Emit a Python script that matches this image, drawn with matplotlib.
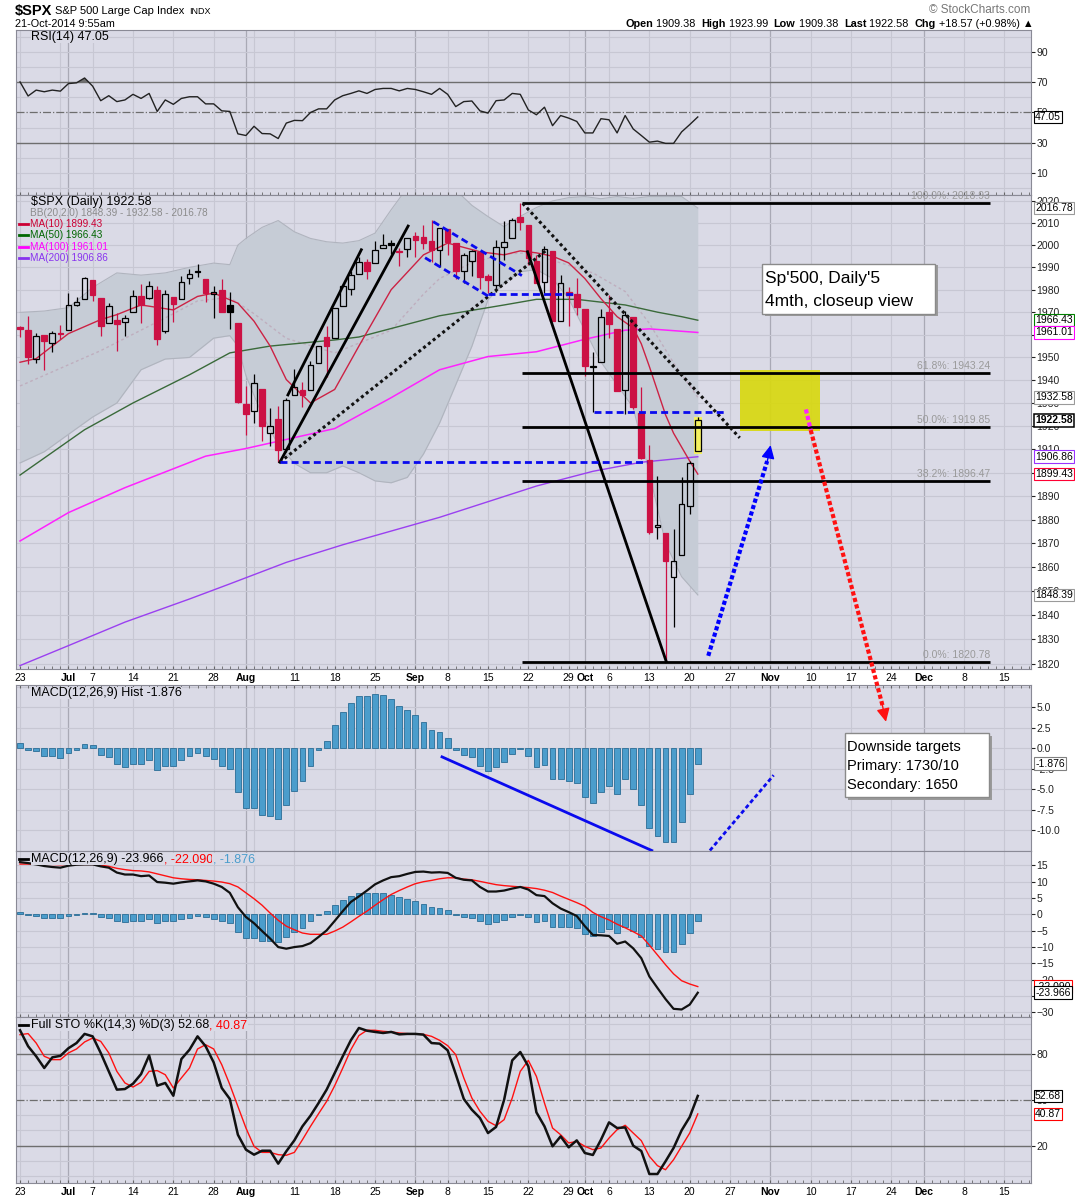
import matplotlib
matplotlib.use('Agg')
import matplotlib.pyplot as plt
import numpy as np
import pandas as pd
from matplotlib.patches import Rectangle
from matplotlib.lines import Line2D
from matplotlib.ticker import NullLocator
from matplotlib.transforms import blended_transform_factory

plt.rcParams['font.family'] = ['Liberation Sans', 'DejaVu Sans']

# ---------------- data ----------------
opens = [1962.92, 1961.97, 1949.27, 1959.89, 1956.56, 1960.79, 1962.29, 1973.06, 1975.88, 1984.22,
         1976.39, 1965.10, 1966.67, 1965.76, 1969.86, 1977.36, 1976.35, 1979.75, 1961.54, 1976.93,
         1975.65, 1985.32, 1988.07, 1984.60, 1978.25, 1980.03, 1973.21, 1965.14, 1929.80, 1926.62,
         1936.34, 1917.29, 1923.03, 1910.35, 1933.43, 1935.73, 1935.60, 1947.41, 1958.87, 1958.36,
         1972.73, 1980.46, 1986.82, 1992.60, 1991.74, 1998.59, 2000.54, 1997.42, 1998.45, 2004.07,
         2003.57, 2001.67, 1998.00, 2007.17, 2000.73, 1988.41, 1992.85, 1996.74, 1986.04, 1981.93,
         1999.30, 2003.07, 2012.74, 2009.08, 1992.78, 1983.34, 1997.32, 1966.22, 1978.96, 1978.21,
         1971.44, 1945.83, 1948.12, 1970.01, 1962.36, 1935.55, 1967.68, 1925.63, 1905.65, 1877.11,
         1874.18, 1855.95, 1864.91, 1885.62, 1909.38]
highs = [1963.74, 1968.17, 1960.83, 1959.89, 1961.47, 1964.24, 1978.58, 1976.67, 1985.59, 1984.22,
         1976.39, 1974.15, 1969.84, 1968.67, 1979.85, 1982.52, 1983.94, 1981.80, 1979.91, 1976.93,
         1986.24, 1989.23, 1991.39, 1984.60, 1981.52, 1984.85, 1978.90, 1965.14, 1937.35, 1942.92,
         1936.34, 1927.91, 1928.89, 1932.38, 1944.90, 1939.27, 1948.41, 1955.23, 1964.04, 1971.99,
         1982.57, 1988.57, 1994.76, 1993.54, 2001.95, 2005.04, 2002.14, 1998.55, 2003.38, 2006.12,
         2009.28, 2011.17, 2007.71, 2007.17, 2001.01, 1996.66, 1997.65, 1996.74, 1987.18, 2002.28,
         2010.74, 2012.34, 2019.26, 2009.08, 1995.41, 1999.79, 1997.32, 1986.37, 1981.28, 1985.17,
         1971.44, 1952.32, 1971.19, 1977.84, 1962.36, 1970.36, 1967.68, 1936.98, 1912.09, 1898.71,
         1874.18, 1876.01, 1898.16, 1905.03, 1923.99]
lows = [1958.89, 1947.20, 1947.49, 1944.69, 1952.18, 1958.22, 1962.29, 1972.58, 1975.88, 1974.88,
        1959.46, 1965.10, 1952.86, 1959.63, 1969.86, 1965.34, 1975.67, 1955.59, 1960.82, 1965.77,
        1975.65, 1982.44, 1985.79, 1974.37, 1967.31, 1969.95, 1962.42, 1930.04, 1916.37, 1921.20,
        1913.77, 1911.45, 1904.78, 1909.01, 1933.43, 1928.29, 1935.60, 1947.41, 1941.50, 1958.36,
        1972.73, 1977.68, 1986.82, 1984.76, 1991.74, 1998.59, 1996.20, 1990.52, 1994.65, 1994.85,
        1998.14, 1992.54, 1990.10, 1995.60, 1984.61, 1982.99, 1985.93, 1980.26, 1978.48, 1979.06,
        1993.29, 2003.07, 2006.59, 1991.01, 1982.77, 1978.63, 1965.99, 1966.22, 1964.04, 1968.96,
        1941.72, 1926.03, 1948.12, 1958.43, 1935.10, 1925.25, 1927.56, 1906.05, 1874.14, 1871.79,
        1820.66, 1835.02, 1864.91, 1882.30, 1909.38]
closes = [1962.61, 1949.98, 1959.53, 1957.22, 1960.96, 1960.23, 1973.32, 1974.62, 1985.44, 1977.65,
          1963.71, 1972.83, 1964.68, 1967.57, 1977.10, 1973.28, 1981.57, 1958.12, 1978.22, 1973.63,
          1983.53, 1987.01, 1987.98, 1978.34, 1978.91, 1969.95, 1970.07, 1930.67, 1925.15, 1938.99,
          1920.21, 1920.24, 1909.57, 1931.59, 1936.92, 1933.75, 1946.72, 1955.18, 1955.06, 1971.74,
          1981.60, 1986.51, 1992.37, 1988.40, 1997.92, 2000.02, 2000.12, 1996.74, 2003.37, 2002.28,
          2000.72, 1997.65, 2007.71, 2001.54, 1988.44, 1995.69, 1997.45, 1985.54, 1984.13, 1998.98,
          2001.57, 2011.36, 2010.40, 1994.29, 1982.77, 1998.30, 1965.99, 1982.85, 1977.80, 1972.29,
          1946.16, 1946.17, 1967.90, 1964.82, 1935.10, 1968.89, 1928.21, 1906.13, 1874.74, 1877.70,
          1862.49, 1862.76, 1886.76, 1904.01, 1922.58]

ma10_idx = [0, 2, 6, 10, 12, 15, 19, 22, 24, 27, 29, 31, 33, 36, 39, 42, 46, 50, 53, 57, 60,
            62, 64, 66, 68, 70, 72, 74, 76, 77, 78, 80, 81, 83, 84]
ma10_val = [1947.9, 1949.5, 1960.5, 1966.7, 1968.9, 1973.2, 1971.0, 1977.0, 1978.5, 1974.0, 1966.0,
            1955.0, 1940.3, 1930.1, 1936.0, 1955.0, 1980.0, 1995.6, 2000.9, 1997.0, 1995.6,
            1997.4, 1996.5, 1995.0, 1992.0, 1985.0, 1976.0, 1968.0, 1963.0, 1956.0, 1946.0,
            1925.0, 1917.0, 1905.0, 1899.43]
ma50_idx = [0, 8, 14, 21, 26, 31, 39, 42, 52, 60, 64, 69, 75, 79, 82, 84]
ma50_val = [1899.0, 1918.5, 1930.1, 1942.4, 1952.0, 1955.0, 1957.7, 1959.0, 1968.4, 1973.2,
            1975.7, 1975.7, 1973.2, 1970.0, 1968.0, 1966.43]
ma100_idx = [0, 6, 13, 23, 28, 33, 39, 46, 52, 58, 64, 70, 75, 78, 84]
ma100_val = [1871.0, 1883.0, 1893.6, 1907.1, 1910.4, 1914.3, 1919.0, 1932.4, 1944.6, 1950.4,
             1952.5, 1958.0, 1962.0, 1962.6, 1961.01]
ma200_idx = [0, 6, 13, 21, 26, 33, 40, 52, 64, 71, 77, 84]
ma200_val = [1819.2, 1827.4, 1837.1, 1846.7, 1853.0, 1862.0, 1869.4, 1881.0, 1894.3, 1900.6,
             1904.5, 1906.86]

bb_idx = [0, 3, 6, 9, 12, 15, 18, 21, 24, 26, 27, 28, 30, 32, 34, 36, 38, 40, 42, 44,
          46, 48, 50, 52, 54, 56, 58, 60, 62, 64, 66, 68, 70, 72, 74, 76, 78, 80, 82, 84]
bb_upper = [1969.9, 1970.5, 1972.0, 1981.0, 1987.5, 1986.5, 1987.5, 1990.0, 1991.9, 1991.2,
            2000.0, 2003.0, 2008.0, 2011.1, 2006.0, 2003.0, 2001.5, 2000.9, 2002.0, 2005.4,
            2016.0, 2026.0, 2027.0, 2027.0, 2025.0, 2018.0, 2012.9, 2008.3, 2013.0, 2017.0,
            2020.0, 2021.5, 2022.0, 2021.0, 2022.0, 2021.2, 2022.0, 2022.0, 2022.0, 2016.78]
bb_lower = [1904.2, 1909.0, 1916.5, 1924.0, 1930.1, 1944.6, 1949.3, 1950.0, 1958.5, 1959.6,
            1955.0, 1942.0, 1925.0, 1912.0, 1904.0, 1900.0, 1900.0, 1902.9, 1900.0, 1896.5,
            1895.7, 1898.0, 1908.0, 1921.4, 1938.0, 1954.9, 1975.5, 1983.0, 1988.0, 1989.0,
            1985.0, 1976.0, 1962.0, 1948.0, 1938.0, 1928.0, 1900.0, 1870.0, 1856.0, 1848.39]
bb_mid_idx = [0, 10, 19, 22, 26, 29, 33, 39, 46, 50, 52, 56, 60, 63, 67, 71, 75, 78, 81, 84]
bb_mid_val = [1937.5, 1953.0, 1969.3, 1975.0, 1976.5, 1969.3, 1958.4, 1952.0, 1962.0, 1978.0,
              1985.0, 1992.0, 1996.0, 1996.5, 1992.0, 1987.5, 1979.2, 1965.0, 1947.6, 1932.58]

rsi = [70.2, 60.9, 64.8, 63.7, 64.8, 64.1, 69.1, 69.6, 72.8, 67.4,
       57.8, 61.1, 57.2, 58.3, 62.0, 59.3, 62.6, 50.7, 58.3, 55.4,
       59.3, 60.4, 60.4, 55.7, 55.7, 51.1, 50.7, 35.9, 34.8, 40.9,
       36.1, 35.9, 32.8, 43.0, 44.8, 44.6, 50.0, 52.4, 52.4, 58.3,
       61.1, 62.6, 64.3, 62.6, 65.2, 65.9, 65.9, 64.3, 65.9, 65.2,
       63.7, 62.0, 65.9, 62.0, 53.9, 57.2, 57.6, 51.1, 49.6, 57.8,
       58.3, 62.6, 62.0, 51.7, 48.5, 53.5, 41.3, 48.0, 46.3, 44.1,
       36.5, 36.5, 45.9, 45.2, 36.5, 48.0, 39.1, 34.8, 30.4, 31.1,
       29.6, 29.6, 37.2, 42.0, 47.05]

hist = [0.64, -0.28, -0.4, -0.96, -0.96, -1.2, -0.56, -0.2, 0.52, 0.44,
        -0.8, -1.08, -1.88, -2.28, -1.88, -1.88, -1.4, -2.72, -2.12, -2.12,
        -1.48, -0.96, -0.6, -0.92, -1.32, -2.12, -2.6, -5.36, -7.28, -7.28,
        -8.12, -8.24, -8.6, -6.92, -5.24, -4.04, -2.12, -0.28, 0.92, 2.8,
        4.48, 5.56, 6.4, 6.4, 6.64, 6.52, 6.04, 5.2, 4.72, 4.0,
        3.16, 2.2, 1.96, 1.24, -0.2, -0.8, -1.08, -2.12, -2.84, -2.24,
        -1.68, -0.68, -0.12, -0.92, -2.28, -2.0, -3.8, -3.8, -4.0, -4.28,
        -6.0, -6.68, -5.4, -4.6, -5.64, -3.8, -5.0, -7.0, -9.72, -10.68,
        -11.48, -11.4, -9.0, -5.64, -1.876]
macd = [16.0, 15.7, 15.3, 14.8, 14.5, 14.3, 14.9, 15.2, 15.3, 15.3,
        14.7, 14.3, 12.8, 12.2, 12.2, 11.7, 11.9, 9.9, 9.7, 9.4,
        9.8, 10.1, 10.4, 10.1, 9.4, 8.4, 6.6, 2.2, -0.8, -2.7,
        -5.1, -7.4, -10.0, -10.5, -10.0, -9.7, -8.8, -6.9, -4.9, -2.0,
        1.0, 3.8, 5.5, 7.3, 9.2, 10.4, 11.4, 11.7, 12.4, 13.0,
        13.1, 12.8, 12.9, 12.7, 11.2, 10.6, 10.4, 8.4, 7.0, 7.0,
        7.3, 7.9, 8.4, 7.6, 5.9, 5.6, 3.4, 1.8, 0.7, -0.5,
        -3.6, -6.3, -6.4, -6.6, -9.0, -8.3, -10.4, -13.4, -19.0, -22.5,
        -25.9, -28.9, -29.1, -27.6, -23.966]
signal = [15.4, 15.4, 15.4, 15.3, 15.3, 15.2, 15.3, 15.3, 15.3, 15.3,
          15.1, 14.7, 14.1, 13.7, 13.4, 13.3, 13.0, 12.4, 11.8, 11.2,
          10.9, 10.7, 10.6, 10.4, 10.2, 9.9, 9.4, 8.4, 6.6, 4.8,
          2.8, 0.4, -1.8, -3.6, -4.7, -5.7, -6.1, -6.1, -6.1, -5.1,
          -3.9, -2.3, -0.6, 1.0, 2.8, 4.5, 6.1, 7.3, 8.4, 9.4,
          10.0, 10.4, 10.9, 11.2, 11.2, 10.8, 10.6, 10.1, 9.6, 9.1,
          8.8, 8.6, 8.4, 8.2, 7.9, 7.4, 6.7, 5.6, 4.6, 3.6,
          2.5, 0.6, -0.7, -1.7, -3.0, -4.1, -5.3, -6.6, -9.4, -12.4,
          -15.4, -18.2, -20.3, -21.3, -22.09]

sto_k = [95.8, 85.3, 78.7, 71.0, 78.0, 79.0, 84.0, 87.4, 93.4, 91.8,
         80.9, 68.8, 56.8, 57.2, 60.7, 67.0, 79.3, 59.4, 61.2, 52.8,
         76.9, 83.0, 91.8, 85.3, 74.7, 57.9, 50.7, 27.2, 17.4, 14.1,
         16.7, 16.7, 8.2, 16.3, 23.5, 32.7, 39.7, 48.0, 56.8, 67.7,
         78.7, 89.2, 97.3, 95.5, 94.7, 94.0, 94.7, 93.1, 93.4, 93.4,
         92.9, 87.4, 87.0, 82.6, 67.0, 50.7, 43.6, 38.2, 28.3, 32.3,
         50.2, 76.0, 81.5, 72.1, 41.9, 32.7, 19.6, 26.1, 18.9, 23.5,
         15.2, 13.9, 23.9, 35.3, 31.6, 32.0, 20.0, 16.5, 1.4, 1.4,
         9.7, 18.5, 30.1, 38.8, 52.68]
sto_d = [92.9, 93.6, 87.4, 78.7, 76.5, 76.5, 80.9, 83.5, 88.1, 90.7,
         88.5, 80.9, 68.8, 61.2, 58.5, 61.6, 68.8, 69.3, 66.6, 57.9,
         64.5, 71.0, 83.5, 86.3, 83.5, 73.2, 60.1, 45.8, 31.6, 19.6,
         15.6, 15.6, 14.1, 13.7, 15.6, 23.9, 32.7, 41.0, 49.1, 59.4,
         71.0, 83.0, 92.3, 95.8, 95.8, 95.1, 94.7, 94.0, 93.6, 93.4,
         93.1, 91.8, 89.2, 85.7, 79.8, 64.5, 51.3, 42.6, 36.0, 33.1,
         37.1, 51.3, 68.8, 76.0, 65.5, 48.0, 31.6, 27.2, 21.8, 22.8,
         19.6, 17.4, 18.5, 25.0, 30.5, 33.4, 28.3, 23.3, 13.0, 6.9,
         4.2, 10.8, 19.6, 28.3, 40.87]

fib_levels = [2018.93, 1943.24, 1919.85, 1896.47, 1820.78]
fib_names = ['100.0%', '61.8%', '50.0%', '38.2%', '0.0%']

# ---------------- layout ----------------
W, H = 1075, 1200
BG = '#dadae6'
GRID = '#c7c7d3'
GRID_M = '#a9a9b5'
RED = '#cc1144'
HBAR = '#4b9dcc'

fig = plt.figure(figsize=(W / 100, H / 100), dpi=100)
fig.patch.set_facecolor('white')
renderer = fig.canvas.get_renderer()


def px(x, y):
    return x / W, 1 - y / H


def seq(x, y, pieces, size=8):
    for s, props in pieces:
        kw = dict(fontsize=size)
        kw.update(props)
        t = fig.text(*px(x, y), s, va='center', ha='left', **kw)
        x = t.get_window_extent(renderer).x1
    return x


days = pd.bdate_range('2014-06-23', periods=130, freq='C',
                      holidays=['2014-07-04', '2014-09-01', '2014-11-27', '2014-12-25'])
XMAX = 125.3
week_starts = [i for i in range(len(days)) if i <= XMAX and (i == 0 or days[i].weekday() < days[i - 1].weekday())]
month_starts = [i for i in range(1, len(days)) if i <= XMAX and days[i].month != days[i - 1].month]
tick_pos, tick_lab, tick_bold = [], [], []
for i in sorted(set(week_starts) | set(month_starts)):
    if i in month_starts:
        tick_pos.append(i); tick_lab.append(days[i].strftime('%b')); tick_bold.append(True)
    elif all(abs(i - m) > 1 for m in month_starts):
        tick_pos.append(i); tick_lab.append(str(days[i].day)); tick_bold.append(False)


def panel(top, bottom, xlabels=False):
    ax = fig.add_axes([16 / W, 1 - bottom / H, 1015 / W, (bottom - top) / H])
    ax.set_facecolor(BG)
    for s in ax.spines.values():
        s.set_color('#8a8a96')
    ax.yaxis.tick_right()
    ax.set_xlim(-0.5, XMAX)
    ax.tick_params(axis='y', length=3, labelsize=7.5, pad=1, colors='#222222')
    ax.yaxis.set_minor_locator(NullLocator())
    for i in week_starts:
        if i not in month_starts:
            ax.axvline(i, color=GRID, lw=0.8, zorder=0.5)
    for i in month_starts:
        ax.axvline(i, color=GRID_M, lw=0.9, zorder=0.5)
    ax.set_xticks(tick_pos)
    ax.set_xticks(np.arange(0, XMAX), minor=True)
    ax.tick_params(axis='x', which='both', direction='in', length=2, color='#666666')
    if xlabels:
        ax.set_xticklabels(tick_lab, fontsize=7.5)
        for lab, b in zip(ax.get_xticklabels(), tick_bold):
            if b:
                lab.set_fontweight('bold')
        ax.tick_params(axis='x', pad=3)
    else:
        ax.set_xticklabels([])
    return ax


def hgrid(ax, vals):
    for v in vals:
        ax.axhline(v, color=GRID, lw=0.8, zorder=0.5)


def value_box(ax, val, s, ec, bold=False, lw=0.8):
    tr = blended_transform_factory(ax.transAxes, ax.transData)
    ax.text(1.004, val, s, transform=tr, va='center', ha='left', fontsize=7.5,
            fontweight='bold' if bold else 'normal', zorder=20,
            bbox=dict(boxstyle='square,pad=0.12', fc='white', ec=ec, lw=lw))


idx = np.arange(len(closes))
DOT = (0, (1, 0.6))

# ---------------- RSI ----------------
axr = panel(30, 195)
axr.set_ylim(-4.5, 104.5)
hgrid(axr, [0, 10, 20, 40, 60, 80, 90, 100])
axr.set_yticks([10, 30, 50, 70, 90])
axr.axhline(70, color='#6e6e6e', lw=1)
axr.axhline(30, color='#6e6e6e', lw=1)
axr.axhline(50, color='#6e6e6e', lw=0.9, ls='-.')
r = np.array(rsi)
axr.fill_between(idx, r, 70, where=r > 70, interpolate=True, color='#707070', lw=0)
axr.plot(idx, rsi, color='#222222', lw=1)
value_box(axr, 47.05, '47.05', 'black')

# ---------------- price ----------------
axp = panel(195, 669, xlabels=True)
axp.set_yscale('log')
axp.set_ylim(1817.8, 2022.7)
pticks = list(range(1820, 2021, 10))
hgrid(axp, pticks)
axp.set_yticks(pticks)
axp.set_yticklabels([str(t) for t in pticks])
axp.yaxis.set_minor_locator(NullLocator())

axp.fill_between(bb_idx, bb_lower, bb_upper, color='#c6ccd6', lw=0, zorder=1)
axp.plot(bb_idx, bb_upper, color='#b0b4be', lw=0.8, zorder=1.1)
axp.plot(bb_idx, bb_lower, color='#b0b4be', lw=0.8, zorder=1.1)
axp.plot(bb_mid_idx, bb_mid_val, color='#bfaebe', lw=1, ls=(0, (2, 2)), zorder=1.2)
axp.plot(ma200_idx, ma200_val, color='#9a40f0', lw=1, zorder=2)
axp.plot(ma100_idx, ma100_val, color='#ff22ff', lw=1.1, zorder=2)
axp.plot(ma50_idx, ma50_val, color='#3a6a3a', lw=1, zorder=2)
axp.plot(ma10_idx, ma10_val, color='#cc2244', lw=1, zorder=2)

for i in idx:
    o, h, l, c = opens[i], highs[i], lows[i], closes[i]
    prev = closes[i - 1] if i > 0 else o
    col = 'black' if c >= prev else RED
    lo_b, hi_b = min(o, c), max(o, c)
    if hi_b - lo_b < 0.6:
        hi_b = lo_b + 0.6
    axp.vlines(i, l, lo_b, color=col, lw=0.9, zorder=4)
    axp.vlines(i, hi_b, h, color=col, lw=0.9, zorder=4)
    if i == len(closes) - 1:
        axp.add_patch(Rectangle((i - 0.5, lo_b - 1.5), 1.0, hi_b - lo_b + 3, fc='#f4f060',
                                ec='none', zorder=3.9))
        fc = '#f4f060'
    else:
        fc = 'none' if c > o else col
    axp.add_patch(Rectangle((i - 0.35, lo_b), 0.7, hi_b - lo_b, fc=fc, ec=col, lw=0.9, zorder=4))

# yellow target zone
axp.add_patch(Rectangle((89.2, 1917.9), 10.0, 1944.6 - 1917.9, fc='#d8d810', ec='none',
                        alpha=0.92, zorder=3))

# fib lines
for lv, nm in zip(fib_levels, fib_names):
    axp.plot([62.2, 120.2], [lv, lv], color='black', lw=2, zorder=5, solid_capstyle='butt')
    axp.annotate(f'{nm}: {lv:.2f}', (120.2, lv), xytext=(0, 1.5), textcoords='offset points',
                 ha='right', va='bottom', fontsize=7.5, color='#9a9a9a', zorder=5)

# trend lines
axp.plot([32.2, 48.1], [1904.5, 2008.6], color='black', lw=2, zorder=5)
axp.plot([33.2, 42.3], [1933.6, 1997.9], color='black', lw=2, zorder=5)
axp.plot([62.9, 80.1], [1997.0, 1820.8], color='black', lw=2, zorder=5)
axp.plot([32.2, 65.3], [1904.5, 1997.9], color='#111111', lw=2.2, ls=(0, (1, 1)), zorder=5)
axp.plot([62.3, 89.2], [2018.9, 1915.0], color='#111111', lw=2.2, ls=(0, (1, 1)), zorder=5)
blue_dash = dict(color='#0a0aee', lw=2, ls=(0, (2.5, 1.5)), zorder=5)
axp.plot([32.2, 77.7], [1904.8, 1904.8], **blue_dash)
axp.plot([58.0, 69.0], [1978.0, 1978.0], **blue_dash)
axp.plot([71.1, 87.2], [1926.0, 1926.0], **blue_dash)
axp.plot([51.2, 62.2], [2010.6, 1986.3], **blue_dash)
axp.plot([50.2, 58.0], [1994.3, 1977.2], **blue_dash)

# up arrow (blue, dotted)
axp.plot([85.3, 92.6], [1823.2, 1905.0], color='#0000ff', lw=3, ls=DOT, zorder=6)
axp.annotate('', xy=(93.1, 1913.0), xytext=(92.5, 1903.0),
             arrowprops=dict(arrowstyle='-|>', mutation_scale=20, color='#0000ff', lw=1), zorder=6)
# down arrow (magenta -> red), crosses into the MACD histogram panel
axp.plot([97.4, 98.0], [1927.3, 1918.3], color='#ff22ff', lw=3, ls=DOT, zorder=6)

# note box
axp.add_patch(Rectangle((92.3, 1968.3), 21.5, 22.6, fc='#9a9a9a', ec='none', zorder=6))
axp.add_patch(Rectangle((91.9, 1969.0), 21.5, 22.6, fc='white', ec='#8a8a8a', lw=1, zorder=6.1))
axp.text(92.3, 1984.8, "Sp'500, Daily'5", fontsize=12.5, va='center', ha='left', zorder=7)
axp.text(92.3, 1974.7, '4mth, closeup view', fontsize=12.5, va='center', ha='left', zorder=7)

value_box(axp, 2016.78, '2016.78', '#9a9a9a')
value_box(axp, 1966.43, '1966.43', '#008000')
value_box(axp, 1961.01, '1961.01', '#ff00ff')
value_box(axp, 1932.58, '1932.58', '#9a9a9a')
value_box(axp, 1922.58, '1922.58', 'black', bold=True, lw=1.1)
value_box(axp, 1906.86, '1906.86', '#9933ff')
value_box(axp, 1899.43, '1899.43', '#ff0033')
value_box(axp, 1848.39, '1848.39', '#9a9a9a')

# ---------------- MACD histogram ----------------
axh = panel(685, 851)
axh.set_ylim(-12.56, 7.72)
hgrid(axh, [-10, -7.5, -5, -2.5, 0, 2.5, 5, 7.5])
axh.set_yticks([-10, -7.5, -5, -2.5, 0, 2.5, 5])
axh.set_yticklabels(['-10.0', '-7.5', '-5.0', '-2.5', '0.0', '2.5', '5.0'])
axh.tick_params(axis='x', which='both', top=True, bottom=False)
axh.bar(idx, hist, width=0.72, color=HBAR, edgecolor='#2b6d96', lw=0.6, zorder=2)
axh.plot([52.3, 78.3], [-1.06, -12.5], color='#0a0aee', lw=2, zorder=5)
axh.plot([85.5, 93.4], [-12.5, -3.3], color='#0a0aee', lw=2, ls=(0, (1.5, 1)), zorder=5)
value_box(axh, -1.876, '-1.876', '#808080')

# red dotted down arrow drawn in figure space from the price panel into the histogram panel
p0 = axp.transData.transform((98.0, 1918.3))
p1 = axh.transData.transform((106.9, 5.2))
inv = fig.transFigure.inverted()
f0, f1 = inv.transform(p0), inv.transform(p1)
fig.add_artist(Line2D([f0[0], f1[0]], [f0[1], f1[1]], transform=fig.transFigure,
                      color='#ff1111', lw=3, ls=DOT, zorder=8))
axh.annotate('', xy=(107.4, 2.9), xytext=(106.8, 5.6),
             arrowprops=dict(arrowstyle='-|>', mutation_scale=20, color='#ff1111', lw=1), zorder=8)

axh.add_patch(Rectangle((102.6, -6.3), 17.9, 7.81, fc='#9a9a9a', ec='none', zorder=6))
axh.add_patch(Rectangle((102.2, -5.94), 17.9, 7.81, fc='white', ec='#8a8a8a', lw=1, zorder=6.1))
for yy, s in zip([0.2, -2.16, -4.48], ['Downside targets', 'Primary: 1730/10', 'Secondary: 1650']):
    axh.text(102.55, yy, s, fontsize=10.5, va='center', ha='left', zorder=7)

# ---------------- MACD lines ----------------
axm = panel(851, 1017)
axm.set_ylim(-31.4, 19.4)
hgrid(axm, range(-30, 20, 5))
axm.set_yticks(list(range(-30, 16, 5)))
axm.bar(idx, hist, width=0.72, color=HBAR, edgecolor='#2b6d96', lw=0.6, zorder=2)
axm.plot(idx, signal, color='#ff1111', lw=1, zorder=3)
axm.plot(idx, macd, color='#111111', lw=1.6, zorder=3)
value_box(axm, -22.09, '-22.090', '#ff0000')
value_box(axm, -23.966, '-23.966', 'black')

# ---------------- stochastics ----------------
axs = panel(1017, 1183, xlabels=True)
axs.set_ylim(-4.5, 104.5)
hgrid(axs, [0, 10, 30, 40, 60, 70, 90, 100])
axs.set_yticks([20, 50, 80])
axs.axhline(80, color='#6e6e6e', lw=1)
axs.axhline(20, color='#6e6e6e', lw=1)
axs.axhline(50, color='#6e6e6e', lw=0.9, ls='-.')
axs.plot(idx, sto_d, color='#ff1111', lw=1, zorder=3)
axs.plot(idx, sto_k, color='#111111', lw=1.8, zorder=3)
value_box(axs, 52.68, '52.68', 'black')
value_box(axs, 40.87, '40.87', '#ff0000')

# ---------------- legends ----------------
leg_bg = dict(fc=BG, ec='none', pad=0.3)
fig.text(*px(31, 37), 'RSI(14) 47.05', fontsize=9, va='center', bbox=leg_bg)
fig.text(*px(31, 202), '$SPX (Daily) 1922.58', fontsize=9, va='center', bbox=leg_bg)
price_leg = [('BB(20,2.0) 1848.39 - 1932.58 - 2016.78', '#8c8c8c'),
             ('MA(10) 1899.43', '#cc0033'),
             ('MA(50) 1966.43', '#006600'),
             ('MA(100) 1961.01', '#ff00ff'),
             ('MA(200) 1906.86', '#8833ee')]
for k, (s, c) in enumerate(price_leg):
    y = 213 + 11.2 * k
    fig.text(*px(30, y), s, fontsize=7.2, va='center', color=c)
    if k > 0:
        fig.add_artist(Line2D([19 / W, 28 / W], [1 - y / H] * 2, color=c, lw=2))
fig.text(*px(31, 693), 'MACD(12,26,9) Hist -1.876', fontsize=9, va='center', bbox=leg_bg)
fig.add_artist(Line2D([19 / W, 28 / W], [1 - 859 / H] * 2, color='black', lw=2))
seq(31, 859, [('MACD(12,26,9) -23.966', dict(color='black', bbox=leg_bg)),
              (', -22.090', dict(color='#ff0000', bbox=leg_bg)),
              (', -1.876', dict(color=HBAR, bbox=leg_bg))], size=9)
fig.add_artist(Line2D([19 / W, 28 / W], [1 - 1025 / H] * 2, color='black', lw=2))
seq(31, 1025, [('Full STO %K(14,3) %D(3) 52.68', dict(color='black', bbox=leg_bg)),
               (', 40.87', dict(color='#ff0000', bbox=leg_bg))], size=9)

# ---------------- header ----------------
x = seq(15, 11, [('$SPX', dict(fontweight='bold', fontsize=10.5))])
x = seq(x + 3, 11, [('S&P 500 Large Cap Index', dict(fontsize=8))])
seq(x + 4, 11, [('INDX', dict(fontsize=6.5))])
seq(15, 24, [('21-Oct-2014 9:55am', dict(fontsize=7.8))])
fig.text(*px(1030, 10), '\u00a9 StockCharts.com', fontsize=8.5, color='#777777', ha='right', va='center')
seq(625, 24, [('Open', dict(fontweight='bold')), (' 1909.38  ', {}),
              ('High', dict(fontweight='bold')), (' 1923.99  ', {}),
              ('Low', dict(fontweight='bold')), (' 1909.38  ', {}),
              ('Last', dict(fontweight='bold')), (' 1922.58  ', {}),
              ('Chg', dict(fontweight='bold')), (' +18.57 (+0.98%) \u25b2', {})], size=7.8)

fig.savefig('out.png', dpi=100, facecolor='white')
